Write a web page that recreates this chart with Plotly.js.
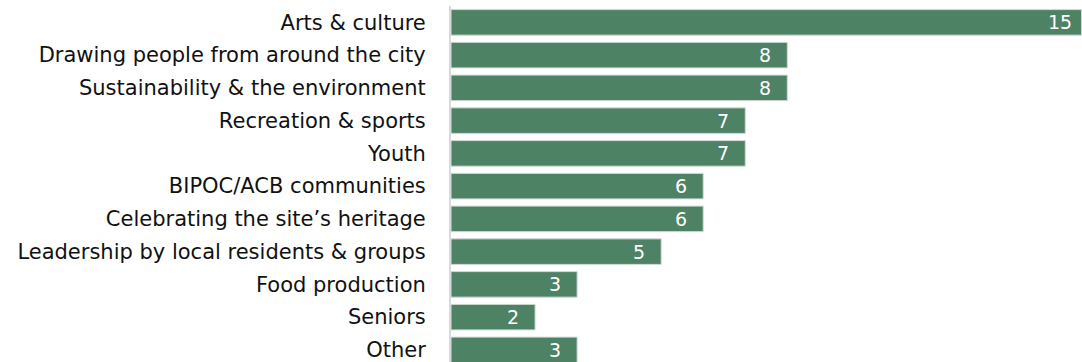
<!DOCTYPE html>
<html>
<head>
<meta charset="utf-8">
<script src="https://cdn.plot.ly/plotly-3.0.1.min.js"></script>
<style>
html,body{margin:0;padding:0;background:#fff;}
#chart{width:1082px;height:362px;}
</style>
</head>
<body>
<div id="chart"></div>
<script>
const categories = [
  "Arts & culture",
  "Drawing people from around the city",
  "Sustainability & the environment",
  "Recreation & sports",
  "Youth",
  "BIPOC/ACB communities",
  "Celebrating the site\u2019s heritage",
  "Leadership by local residents & groups",
  "Food production",
  "Seniors",
  "Other"
];
const counts = [15, 8, 8, 7, 7, 6, 6, 5, 3, 2, 3];

const trace = {
  type: 'bar',
  orientation: 'h',
  y: categories,
  x: counts,
  width: 0.78,
  marker: {color: '#4d8265', line: {color: '#d3dcd6', width: 1}},
  hoverinfo: 'none'
};

const valueLabels = categories.map((c, i) => ({
  x: counts[i],
  y: c,
  xref: 'x',
  yref: 'y',
  text: String(counts[i]),
  showarrow: false,
  xanchor: 'center',
  yanchor: 'middle',
  xshift: -22,
  font: {family: 'DejaVu Sans, sans-serif', size: 19, color: '#ffffff'}
}));

const layout = {
  width: 1082,
  height: 362,
  margin: {l: 451, r: 0, t: 6, b: 0, pad: 0},
  paper_bgcolor: '#ffffff',
  plot_bgcolor: '#ffffff',
  showlegend: false,
  xaxis: {
    range: [0, 15.01],
    showgrid: false,
    zeroline: false,
    showticklabels: false,
    showline: false,
    ticks: ''
  },
  yaxis: {
    type: 'category',
    categoryorder: 'array',
    categoryarray: categories,
    range: [10.37, -0.5],
    showgrid: false,
    zeroline: false,
    showline: true,
    linecolor: '#d9d9d9',
    linewidth: 2,
    ticks: '',
    ticklabelstandoff: 19,
    tickfont: {family: 'DejaVu Sans, sans-serif', size: 21, color: '#111111'}
  },
  annotations: valueLabels
};

Plotly.newPlot('chart', [trace], layout, {displayModeBar: false, staticPlot: true});
</script>
</body>
</html>
